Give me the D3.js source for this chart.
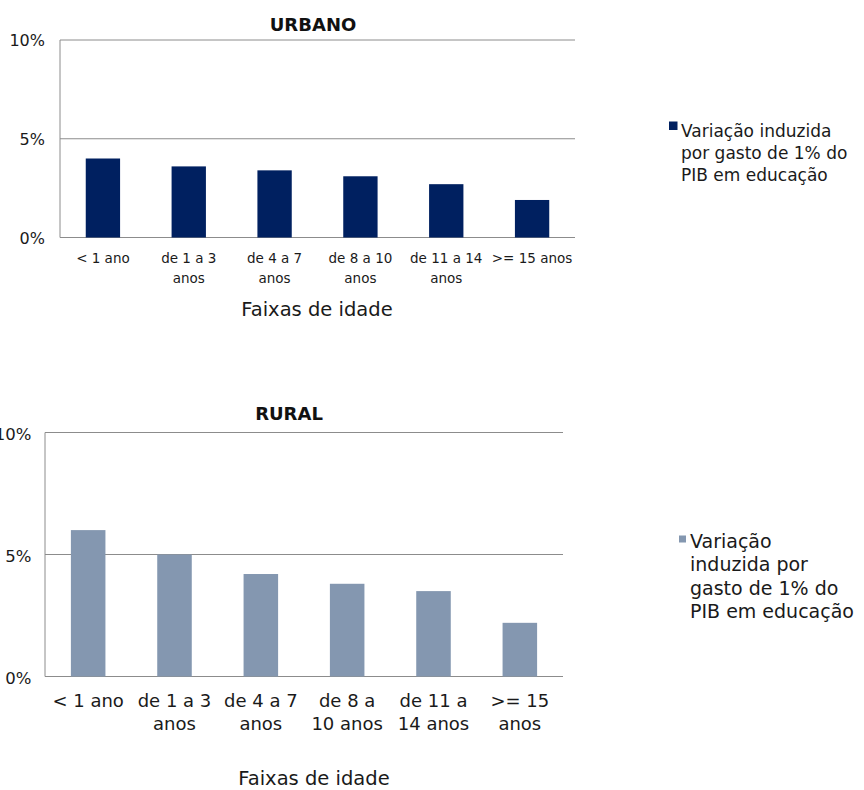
<!DOCTYPE html>
<html>
<head>
<meta charset="utf-8">
<script src="https://cdn.jsdelivr.net/npm/d3@7"></script>
<style>
  html, body { margin: 0; padding: 0; background: #fff; }
  svg { display: block; font-family: "DejaVu Sans", sans-serif; }
</style>
</head>
<body>
<svg id="chart" width="864" height="790"></svg>
<script>
// ---- Data ----
const urbanCategories = ["< 1 ano", "de 1 a 3\nanos", "de 4 a 7\nanos", "de 8 a 10\nanos", "de 11 a 14\nanos", ">= 15 anos"];
const urbanValues = [4.0, 3.6, 3.4, 3.1, 2.7, 1.9];
const ruralCategories = ["< 1 ano", "de 1 a 3\nanos", "de 4 a 7\nanos", "de 8 a\n10 anos", "de 11 a\n14 anos", ">= 15\nanos"];
const ruralValues = [6.0, 5.0, 4.2, 3.8, 3.5, 2.2];
const yTicks = [0, 5, 10];
const yTickLabels = ["0%", "5%", "10%"];
const urbanLegend = ["Variação induzida", "por gasto de 1% do", "PIB em educação"];
const ruralLegend = ["Variação", "induzida por", "gasto de 1% do", "PIB em educação"];
const xTitle = "Faixas de idade";

const svg = d3.select("#chart");

function drawPanel(opt) {
  const g = svg.append("g");
  const x = d3.scaleBand().domain(opt.categories).range([opt.left, opt.right]).paddingInner(0.6).paddingOuter(0.3);
  const y = d3.scaleLinear().domain([0, 10]).range([opt.bottom, opt.top]);

  // gridlines
  g.selectAll("line.grid").data(yTicks).enter().append("line")
    .attr("x1", opt.left).attr("x2", opt.right)
    .attr("y1", d => y(d)).attr("y2", d => y(d))
    .attr("stroke", "#8c8c8c").attr("stroke-width", 1);
  // left axis line
  g.append("line").attr("x1", opt.left).attr("x2", opt.left)
    .attr("y1", y(10)).attr("y2", y(0)).attr("stroke", "#8c8c8c");

  // bars
  g.selectAll("rect.bar").data(opt.values).enter().append("rect")
    .attr("x", (d, i) => x(opt.categories[i]))
    .attr("width", x.bandwidth())
    .attr("y", d => y(d))
    .attr("height", d => y(0) - y(d))
    .attr("fill", opt.color);

  // y tick labels
  g.selectAll("text.ytick").data(yTicks).enter().append("text")
    .attr("x", opt.left - opt.tickGap).attr("y", d => y(d))
    .attr("dy", opt.tickDy).attr("text-anchor", "end")
    .attr("font-size", opt.tickSize).attr("fill", "#1a1a1a")
    .text((d, i) => yTickLabels[i]);

  // x category labels
  opt.categories.forEach(c => {
    const t = g.append("text").attr("text-anchor", "middle")
      .attr("font-size", opt.catSize).attr("fill", "#1a1a1a");
    c.split("\n").forEach((line, j) => {
      t.append("tspan").attr("x", x(c) + x.bandwidth() / 2)
        .attr("y", opt.catY + j * opt.catLH).text(line);
    });
  });

  // title
  g.append("text").attr("x", opt.titleX).attr("y", opt.titleY)
    .attr("text-anchor", "middle").attr("font-weight", "bold").attr("font-size", opt.titleSize)
    .attr("fill", "#111").text(opt.title);

  // x axis title
  g.append("text").attr("x", opt.xTitleX).attr("y", opt.xTitleY)
    .attr("text-anchor", "middle").attr("font-size", opt.xTitleSize).attr("fill", "#1a1a1a").text(xTitle);

  // legend
  g.append("rect").attr("x", opt.legX).attr("y", opt.legSqY).attr("width", opt.legSq).attr("height", opt.legSq).attr("fill", opt.color);
  const lt = g.append("text").attr("font-size", opt.legSize).attr("fill", "#1a1a1a");
  opt.legend.forEach((line, j) => {
    lt.append("tspan").attr("x", opt.legTextX).attr("y", opt.legY + j * opt.legLH).text(line);
  });
}

drawPanel({
  categories: urbanCategories, values: urbanValues, color: "#002060",
  left: 60, right: 575, top: 40, bottom: 237.5,
  tickSize: 16, tickGap: 15, tickDy: "0.38em", catSize: 13.5, catY: 262.5, catLH: 20,
  title: "URBANO", titleX: 313, titleY: 30.5, titleSize: 18,
  xTitleX: 317, xTitleY: 316, xTitleSize: 19.5,
  legend: urbanLegend, legX: 669, legSqY: 121.5, legSq: 8.5, legTextX: 681, legY: 136.5, legSize: 17, legLH: 22
});

drawPanel({
  categories: ruralCategories, values: ruralValues, color: "#8497b0",
  left: 45, right: 563, top: 432.5, bottom: 676.5,
  tickSize: 16.5, tickGap: 13.5, tickDy: "0.45em", catSize: 18, catY: 706.5, catLH: 23.5,
  title: "RURAL", titleX: 289, titleY: 420, titleSize: 18,
  xTitleX: 314, xTitleY: 785, xTitleSize: 19.5,
  legend: ruralLegend, legX: 679, legSqY: 535.5, legSq: 7, legTextX: 690, legY: 547.5, legSize: 19, legLH: 23.5
});
</script>
</body>
</html>
